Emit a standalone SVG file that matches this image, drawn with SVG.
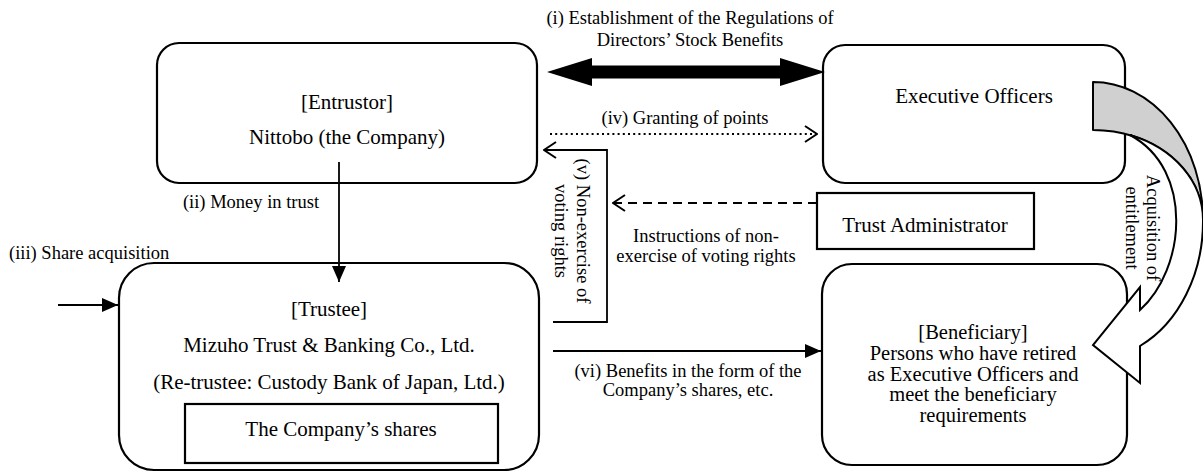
<svg xmlns="http://www.w3.org/2000/svg" width="1203" height="473" viewBox="0 0 1203 473">
<style>
text{font-family:"Liberation Serif","Times New Roman",serif;fill:#000}
.n{font-size:21px;text-anchor:middle}
.b{font-size:20.5px;text-anchor:middle}
.l{font-size:18.5px;text-anchor:middle}
.box{fill:#fff;stroke:#000;stroke-width:2.2}
.ln{fill:none;stroke:#000;stroke-width:1.8}
</style>
<defs>
<marker id="fa" viewBox="0 0 16 14" refX="16" refY="7" markerWidth="16" markerHeight="14" markerUnits="userSpaceOnUse" orient="auto"><path d="M0,0 L16,7 L0,14 Z" fill="#000"/></marker>
<marker id="oa" viewBox="0 0 14 18" refX="13" refY="9" markerWidth="14" markerHeight="18" markerUnits="userSpaceOnUse" orient="auto"><path d="M1,1 L13,9 L1,17" fill="none" stroke="#000" stroke-width="2"/></marker>
</defs>
<rect width="1203" height="473" fill="#fff"/>

<g id="entrustor">
<rect class="box" x="157" y="43" width="380" height="140" rx="22"/>
<text class="n" x="347" y="109">[Entrustor]</text>
<text class="n" x="347" y="144">Nittobo (the Company)</text>
</g>

<g id="executive-officers">
<rect class="box" x="823" y="45" width="302" height="138" rx="22"/>
<text class="n" x="974" y="103">Executive Officers</text>
</g>

<g id="trust-administrator">
<rect class="box" x="817" y="193" width="217" height="56"/>
<text class="n" x="925" y="232">Trust Administrator</text>
</g>

<g id="trustee">
<rect class="box" x="119" y="263" width="420" height="207" rx="35"/>
<text class="n" x="329" y="316">[Trustee]</text>
<text class="n" x="329" y="352">Mizuho Trust &amp; Banking Co., Ltd.</text>
<text class="n" x="329" y="389">(Re-trustee: Custody Bank of Japan, Ltd.)</text>
<rect class="box" x="185" y="404" width="313" height="59"/>
<text class="n" x="341" y="436">The Company’s shares</text>
</g>

<g id="beneficiary">
<rect class="box" x="822" y="264" width="305" height="201" rx="30"/>
<text class="b" x="973" y="339">[Beneficiary]</text>
<text class="b" x="973" y="360">Persons who have retired</text>
<text class="b" x="973" y="381">as Executive Officers and</text>
<text class="b" x="973" y="401">meet the beneficiary</text>
<text class="b" x="973" y="422">requirements</text>
</g>

<g id="connectors">
<polygon points="547,72 592,58 592,65.5 780,65.5 780,58 825,72 780,86 780,78.5 592,78.5 592,86" fill="#000"/>
<text class="l" x="690" y="24">(i) Establishment of the Regulations of</text>
<text class="l" x="690" y="46">Directors’ Stock Benefits</text>

<line class="ln" x1="550" y1="134" x2="817" y2="134" stroke-dasharray="2,3.2" stroke-width="2" marker-end="url(#oa)"/>
<text class="l" x="685" y="124">(iv) Granting of points</text>

<polyline class="ln" points="553,322 607,322 607,150 544,150" marker-end="url(#oa)"/>
<text class="l" transform="translate(577,231) rotate(90)">(v) Non-exercise of</text>
<text class="l" transform="translate(555,231) rotate(90)">voting rights</text>

<line class="ln" x1="817" y1="203" x2="613" y2="203" stroke-dasharray="9,6" stroke-width="2" marker-end="url(#oa)"/>
<text class="l" x="706" y="242">Instructions of non-</text>
<text class="l" x="706" y="262">exercise of voting rights</text>

<line class="ln" x1="339" y1="162" x2="339" y2="282" marker-end="url(#fa)"/>
<text class="l" x="251" y="208">(ii) Money in trust</text>

<line class="ln" x1="58" y1="305" x2="118" y2="305" marker-end="url(#fa)"/>
<text class="l" x="9" y="259" style="text-anchor:start">(iii) Share acquisition</text>

<line class="ln" x1="553" y1="351" x2="821" y2="351" marker-end="url(#fa)"/>
<text class="l" x="688" y="377">(vi) Benefits in the form of the</text>
<text class="l" x="688" y="396">Company’s shares, etc.</text>

<path d="M1093,82 A110,138 0 0 1 1203,220 A110,90 0 0 0 1093,130 Z" fill="#d0d0d0" stroke="#000" stroke-width="2" stroke-linejoin="round"/>
<path d="M1130,135 A110,90 0 0 1 1203,220 A110,138 0 0 1 1140,346 L1140,383 L1093,345 L1140,287 L1140,310 C1185,270 1195,170 1130,135 Z" fill="#fff" stroke="#000" stroke-width="2" stroke-linejoin="miter"/>
<text class="l" transform="translate(1147,228) rotate(90)">Acquisition of</text>
<text class="l" transform="translate(1126,228) rotate(90)">entitlement</text>
</g>
</svg>
